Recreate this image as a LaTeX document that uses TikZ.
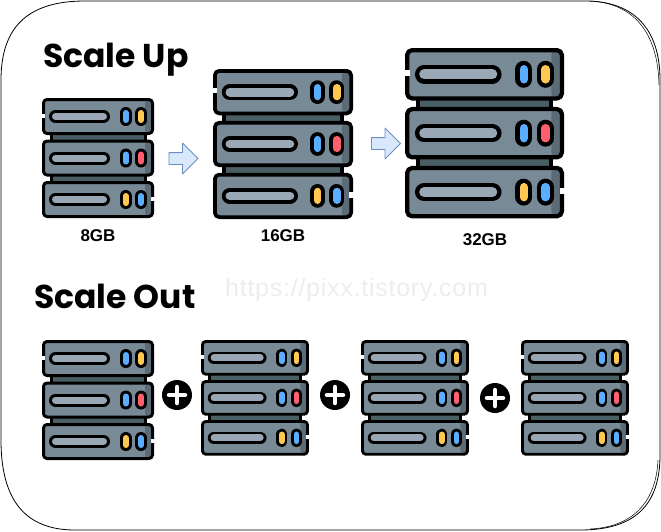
\documentclass[tikz,border=0pt]{standalone}
\usepackage{fontspec}
\usetikzlibrary{shapes.arrows}
\setmainfont{Liberation Sans}
\newfontfamily\titlefont{Poppins}
\newfontfamily\markfont[LetterSpace=3]{Liberation Sans}
\definecolor{rackbody}{HTML}{788A95}
\definecolor{rackdark}{HTML}{5C6C76}
\definecolor{rackband}{HTML}{4A5E65}
\definecolor{rackslot}{HTML}{9AA8B6}
\definecolor{ledblue}{HTML}{5AAEFF}
\definecolor{ledyellow}{HTML}{FFC850}
\definecolor{ledred}{HTML}{FF5F6D}
% one stack of three units: left, top, size
\newcommand{\rackstack}[3]{
	\begin{scope}[shift={(#1,#2)},scale=#3]
		\pgfmathsetlengthmacro{\rackline}{#3*3pt}
		\pgfmathsetlengthmacro{\rackround}{#3*3.5pt}
		\pgfmathsetlengthmacro{\slotout}{#3*13pt}
		\pgfmathsetlengthmacro{\slotin}{#3*7pt}
		\pgfmathsetlengthmacro{\ledout}{#3*12pt}
		\pgfmathsetlengthmacro{\ledin}{#3*6pt}
		\foreach \i in {0,1}
		\draw[fill=rackband,line width=\rackline] (9,35+41.5*\i) rectangle (103,43+41.5*\i);
		\foreach \i/\cola/\colb in {0/ledblue/ledyellow,1/ledblue/ledred,2/ledyellow/ledblue}{
			\begin{scope}[shift={(0,41.5*\i)}]
				\fill[rackbody,rounded corners=\rackround] (1.5,1.5) rectangle (110.5,35.5);
				\fill[rackdark,rounded corners=\rackround] (103,1.5) rectangle (110.5,35.5);
				\draw[line width=\rackline,rounded corners=\rackround] (1.5,1.5) rectangle (110.5,35.5);
				\draw[line cap=round,line width=\slotout] (13.5,18.5)--(61.5,18.5);
				\draw[line cap=round,line width=\slotin,rackslot] (13.5,18.5)--(61.5,18.5);
				\draw[line cap=round,line width=\ledout] (83.7,15)--(83.7,22);
				\draw[line cap=round,line width=\ledin,\cola] (83.7,15)--(83.7,22);
				\draw[line cap=round,line width=\ledout] (99,15)--(99,22);
				\draw[line cap=round,line width=\ledin,\colb] (99,15)--(99,22);
			\end{scope}
		}
		\fill[white] (-0.5,15.5) rectangle (3.2,19.5);
		\fill[white] (108.8,98.5) rectangle (112.5,103);
	\end{scope}
}
\tikzset{
	flowarrow/.style={single arrow,draw=arrowline,fill=arrowfill,line width=0.9pt,inner xsep=0pt,inner ysep=5.5pt,
		minimum width=30pt,minimum height=29pt,single arrow head extend=9.5pt,single arrow tip angle=90},
	sizelabel/.style={font=\bfseries\fontsize{17}{17}\selectfont,inner sep=0pt},
	headline/.style={font=\titlefont\bfseries\fontsize{33}{33}\selectfont,anchor=base west,inner sep=0pt},
	plusdot/.style={circle,fill=black,minimum size=30pt,inner sep=0pt}
}
\definecolor{arrowfill}{HTML}{DAE8FC}
\definecolor{arrowline}{HTML}{6C8EBF}
\begin{document}
\begin{tikzpicture}[x=1pt,y=-1pt,line join=round]
	\useasboundingbox (0,0) rectangle (661,531);
	\draw[line width=0.8pt] (1,80) .. controls (1,25) and (30,1) .. (85,1)
	-- (585,1) .. controls (635,1) and (660,30) .. (660,80)
	-- (660,455) .. controls (660,505) and (635,530) .. (580,530)
	-- (75,530) .. controls (25,530) and (1,500) .. (1,440) -- cycle;
	\draw[line width=0.5pt] (590,1) .. controls (633,3) and (658,32) .. (659,85);
	\draw[line width=0.5pt] (658,460) .. controls (656,503) and (632,527) .. (590,529);
	\node[headline] (titleup) at (43,67) {Scale Up};
	\node[headline] (titleout) at (34,308) {Scale Out};
	\node[font=\markfont\fontsize{25}{25}\selectfont,text=black!7,inner sep=0pt] (mark) at (356.5,290) {https://pixx.tistory.com};
	\rackstack{42}{98}{1}
	\rackstack{213}{69}{1.25}
	\rackstack{405}{48}{1.42}
	\rackstack{42}{340}{1}
	\rackstack{201}{340}{0.964}
	\rackstack{361}{340}{0.964}
	\rackstack{521}{340}{0.964}
	\node[sizelabel] (size8) at (98,236) {8GB};
	\node[sizelabel] (size16) at (283,236) {16GB};
	\node[sizelabel] (size32) at (485,240) {32GB};
	\node[flowarrow] (grow1) at (180.5,158.5) {};
	\node[flowarrow] (grow2) at (383,143.5) {};
	\foreach \n/\px/\py in {1/177/395,2/335/395,3/495/398}{
		\node[plusdot] (plus\n) at (\px,\py) {};
		\draw[white,line width=4.5pt,line cap=round] (\px-8,\py)--(\px+8,\py) (\px,\py-8)--(\px,\py+8);
	}
\end{tikzpicture}
\end{document}
